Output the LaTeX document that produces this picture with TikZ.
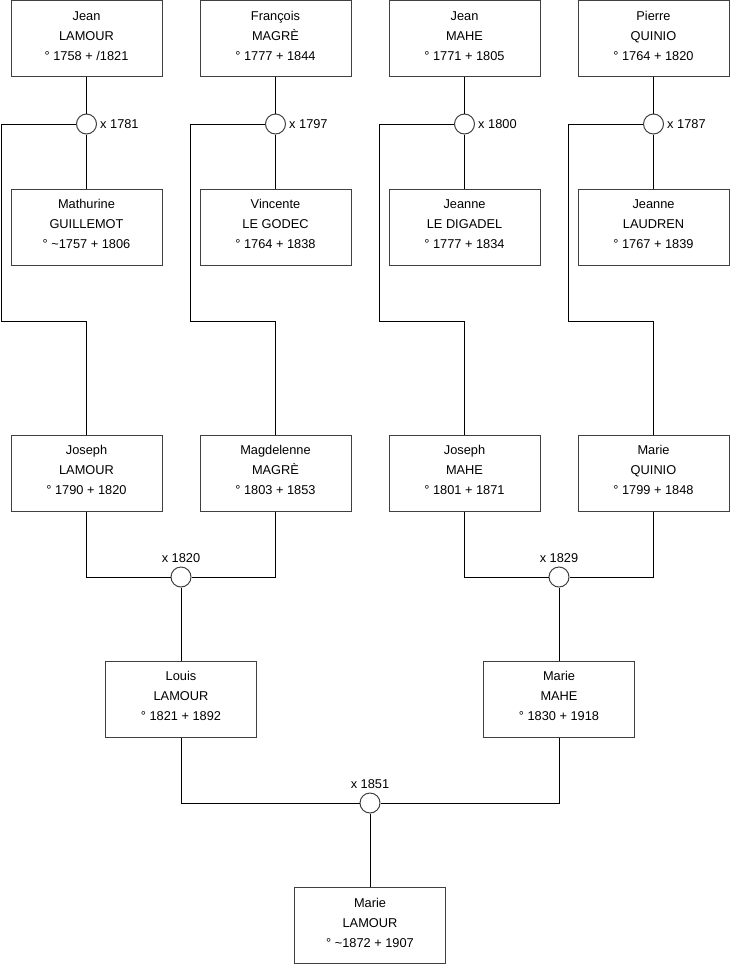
\documentclass[tikz,border=0pt]{standalone}
\usepackage{fontspec}
\setmainfont{Liberation Sans}
\begin{document}
\begin{tikzpicture}[x=1pt,y=-1pt,
  person/.style={draw=black!75, line width=1pt, minimum width=151pt, minimum height=76pt,
    inner sep=0pt, align=center, text height=50pt, text depth=7pt,
    font=\fontsize{12.8}{20}\selectfont},
  wed/.style={circle, draw=black!75, line width=1pt, minimum size=20pt, inner sep=0pt, fill=white},
  lbl/.style={inner sep=0pt, font=\fontsize{12.8}{15}\selectfont},
  conn/.style={draw=black, line width=0.9pt}]
\useasboundingbox (0,0) rectangle (740,975);

% top row
\node[person] (jean)  at (86.5,38.5)  {Jean\\LAMOUR\\° 1758 + /1821};
\node[person] (franc) at (275.5,38.5) {François\\MAGRÈ\\° 1777 + 1844};
\node[person] (jeanm) at (464.5,38.5) {Jean\\MAHE\\° 1771 + 1805};
\node[person] (pierre) at (653.5,38.5) {Pierre\\QUINIO\\° 1764 + 1820};

% wives
\node[person] (mathu) at (86.5,227)  {Mathurine\\GUILLEMOT\\° \textasciitilde1757 + 1806};
\node[person] (vinc)  at (275.5,227) {Vincente\\LE GODEC\\° 1764 + 1838};
\node[person] (jeld)  at (464.5,227) {Jeanne\\LE DIGADEL\\° 1777 + 1834};
\node[person] (jela)  at (653.5,227) {Jeanne\\LAUDREN\\° 1767 + 1839};

% marriages row 1
\node[wed] (m1) at (86.5,124) {};
\node[wed] (m2) at (275.5,124) {};
\node[wed] (m3) at (464.5,124) {};
\node[wed] (m4) at (653.5,124) {};
\node[lbl, anchor=base west] (l1) at ([xshift=3pt,yshift=-4.5pt]m1.east) {x 1781};
\node[lbl, anchor=base west] (l2) at ([xshift=3pt,yshift=-4.5pt]m2.east) {x 1797};
\node[lbl, anchor=base west] (l3) at ([xshift=3pt,yshift=-4.5pt]m3.east) {x 1800};
\node[lbl, anchor=base west] (l4) at ([xshift=3pt,yshift=-4.5pt]m4.east) {x 1787};

% children row
\node[person] (joseph) at (86.5,473)  {Joseph\\LAMOUR\\° 1790 + 1820};
\node[person] (magd)   at (275.5,473) {Magdelenne\\MAGRÈ\\° 1803 + 1853};
\node[person] (josm)   at (464.5,473) {Joseph\\MAHE\\° 1801 + 1871};
\node[person] (marq)   at (653.5,473) {Marie\\QUINIO\\° 1799 + 1848};

\coordinate (a1) at (1.5,124);   \coordinate (b1) at (1.5,321.5);
\coordinate (a2) at (190.5,124); \coordinate (b2) at (190.5,321.5);
\coordinate (a3) at (379.5,124); \coordinate (b3) at (379.5,321.5);
\coordinate (a4) at (568.5,124); \coordinate (b4) at (568.5,321.5);

\foreach \h/\w/\m/\c/\a/\b in {jean/mathu/m1/joseph/a1/b1, franc/vinc/m2/magd/a2/b2,
    jeanm/jeld/m3/josm/a3/b3, pierre/jela/m4/marq/a4/b4}{
  \draw[conn] (\h.south) -- (\m.north);
  \draw[conn] (\m.south) -- (\w.north);
  \draw[conn] (\m.west) -- (\a) -- (\b) -| (\c.north);
}

% marriages row 3
\node[wed] (m5) at (181,577) {};
\node[wed] (m6) at (559,577) {};
\node[lbl, anchor=south] (l5) at ([yshift=4pt]m5.north) {x 1820};
\node[lbl, anchor=south] (l6) at ([yshift=4pt]m6.north) {x 1829};

\node[person] (louis) at (181,699) {Louis\\LAMOUR\\° 1821 + 1892};
\node[person] (marm)  at (559,699) {Marie\\MAHE\\° 1830 + 1918};

\draw[conn] (joseph.south) |- (m5.west);
\draw[conn] (magd.south) |- (m5.east);
\draw[conn] (m5.south) -- (louis.north);
\draw[conn] (josm.south) |- (m6.west);
\draw[conn] (marq.south) |- (m6.east);
\draw[conn] (m6.south) -- (marm.north);

% final marriage
\node[wed] (m7) at (370,803) {};
\node[lbl, anchor=south] (l7) at ([yshift=4pt]m7.north) {x 1851};
\node[person] (marl) at (370,925.5) {Marie\\LAMOUR\\° \textasciitilde1872 + 1907};

\draw[conn] (louis.south) |- (m7.west);
\draw[conn] (marm.south) |- (m7.east);
\draw[conn] (m7.south) -- (marl.north);
\end{tikzpicture}
\end{document}
